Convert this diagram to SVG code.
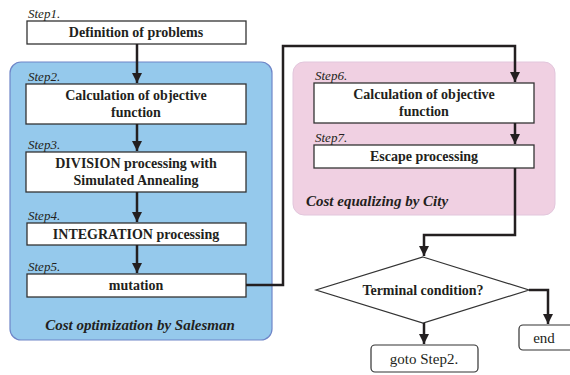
<svg xmlns="http://www.w3.org/2000/svg" width="570" height="375" viewBox="0 0 570 375">
<style>
.bt{font-family:"Liberation Serif",serif;font-weight:bold;font-size:14px;text-anchor:middle;fill:#231f20}
.st{font-family:"Liberation Serif",serif;font-style:italic;font-size:13px;fill:#231f20}
.gt{font-family:"Liberation Serif",serif;font-weight:bold;font-style:italic;font-size:15px;fill:#231f20}
.nt{font-family:"Liberation Serif",serif;font-size:15px;text-anchor:middle;fill:#231f20}
.box{fill:#fff;stroke:#333;stroke-width:1.3}
.c{fill:none;stroke:#231f20;stroke-width:2.5;marker-end:url(#ah)}
</style>
<defs>
<marker id="ah" viewBox="0 0 10 10" refX="10" refY="5" markerWidth="4" markerHeight="4" markerUnits="strokeWidth" orient="auto">
<path d="M0,0 L10,5 L0,10 z" fill="#231f20"/>
</marker>
</defs>
<rect width="570" height="375" fill="#fff"/>
<g id="groupSalesman">
<rect x="10" y="62" width="262" height="278" rx="11" fill="#95c9ec" stroke="#6f86c8" stroke-width="1.2"/>
<text class="gt" x="140" y="330" text-anchor="middle">Cost optimization by Salesman</text>
</g>
<g id="groupCity">
<rect x="293" y="62" width="262" height="153" rx="11" fill="#f0d0e2" stroke="#e2c6dc" stroke-width="1"/>
<text class="gt" x="306" y="206">Cost equalizing by City</text>
</g>
<g id="step1">
<text class="st" x="28" y="18">Step1.</text>
<rect class="box" x="27" y="21" width="219" height="23"/>
<text class="bt" x="136" y="37">Definition of problems</text>
</g>
<g id="step2">
<text class="st" x="28" y="81">Step2.</text>
<rect class="box" x="26" y="84" width="220" height="40"/>
<text class="bt" x="136" y="100">Calculation of objective</text>
<text class="bt" x="136" y="117">function</text>
</g>
<g id="step3">
<text class="st" x="28" y="149">Step3.</text>
<rect class="box" x="26" y="152" width="220" height="40"/>
<text class="bt" x="136" y="168">DIVISION processing with</text>
<text class="bt" x="136" y="185">Simulated Annealing</text>
</g>
<g id="step4">
<text class="st" x="28" y="220">Step4.</text>
<rect class="box" x="27" y="223" width="219" height="22"/>
<text class="bt" x="136" y="239">INTEGRATION processing</text>
</g>
<g id="step5">
<text class="st" x="28" y="271">Step5.</text>
<rect class="box" x="27" y="274" width="219" height="23"/>
<text class="bt" x="136" y="290">mutation</text>
</g>
<g id="step6">
<text class="st" x="315" y="80">Step6.</text>
<rect class="box" x="314" y="83" width="220" height="40"/>
<text class="bt" x="424" y="99">Calculation of objective</text>
<text class="bt" x="424" y="116">function</text>
</g>
<g id="step7">
<text class="st" x="315" y="142">Step7.</text>
<rect class="box" x="314" y="145" width="220" height="23"/>
<text class="bt" x="424" y="161">Escape processing</text>
</g>
<g id="terminal">
<polygon points="423,257 529,290 423,323 316,290" fill="#fff" stroke="#333" stroke-width="1.2"/>
<text class="bt" x="423" y="295">Terminal condition?</text>
</g>
<g id="end">
<rect x="519" y="325" width="60" height="25" rx="4" fill="#fff" stroke="#333" stroke-width="1.2"/>
<text class="nt" x="544" y="343">end</text>
</g>
<g id="goto">
<rect x="371" y="345" width="107" height="27" rx="4" fill="#fff" stroke="#333" stroke-width="1.2"/>
<text class="nt" x="424" y="364">goto Step2.</text>
</g>
<g id="connectors">
<path class="c" d="M137,44 V83"/>
<path class="c" d="M137,124 V151"/>
<path class="c" d="M137,192 V222"/>
<path class="c" d="M137,245 V273"/>
<path class="c" d="M246,285 H283 V46 H515 V82"/>
<path class="c" d="M515,123 V144"/>
<path class="c" d="M515,168 V235 H424 V256"/>
<path class="c" d="M529,290 H548 V324"/>
<path class="c" d="M424,323 V344"/>
</g>
</svg>
